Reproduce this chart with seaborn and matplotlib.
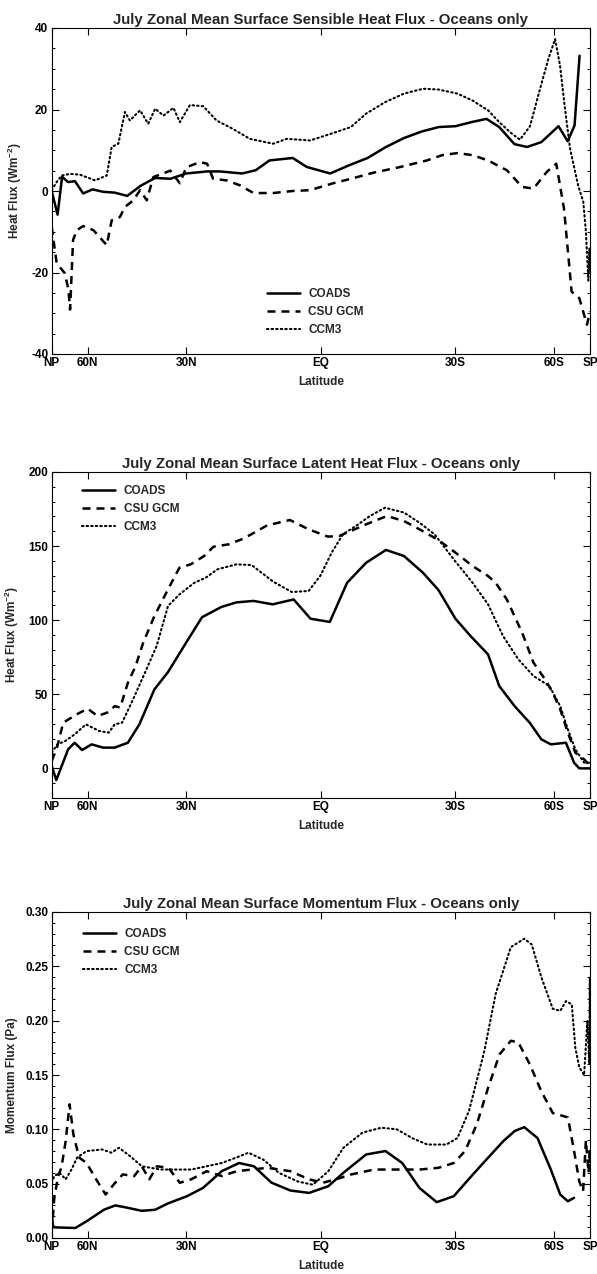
import numpy as np
import matplotlib
matplotlib.use("Agg")
import matplotlib.pyplot as plt
import seaborn as sns
from matplotlib.ticker import MultipleLocator, NullLocator, FormatStrFormatter

SERIES = ['COADS', 'CSU GCM', 'CCM3']
LAT_TICKS = [90, 60, 30, 0, -30, -60, -90]
LAT_LABELS = ['NP', '60N', '30N', 'EQ', '30S', '60S', 'SP']

# --- sensible heat flux (W m-2) ---
SENS_COADS_LAT = [90, 78, 74, 70, 66, 62, 58, 54, 50, 46, 42, 38, 34, 30, 25, 22, 17, 14, 11, 6, 3,
                  -2, -6, -10, -14, -18, -22, -26, -30, -34, -38, -41.5, -46, -50, -55, -62, -66.5, -70.5, -74]
SENS_COADS = [0, -5.8, 3.5, 2.2, 2.4, -0.6, 0.4, -0.2, -0.4, -1.2, 1.3, 3.2, 3.0, 4.3, 4.8, 4.8, 4.3, 5.1, 7.5, 8.1, 5.9,
              4.3, 6.3, 8.1, 10.8, 13.0, 14.6, 15.7, 15.9, 16.9, 17.7, 15.7, 11.5, 10.8, 12.0, 15.9, 12.2, 16.1, 33.2]
SENS_CSU_LAT = [90, 79, 72, 69.7, 68.7, 67, 65, 62, 57.7, 52.7, 51, 48.3, 46.7, 44.2, 42.2, 40.3, 38.5, 34, 31.6, 30,
                26.7, 25, 23.6, 20.5, 17.5, 14.5, 10.2, 6, 2.3, -2.3, -6.4, -11.3, -17.2, -23.2, -26.8, -30.5, -34.3,
                -38.4, -43.7, -48.4, -52.2, -57.1, -61, -64.6, -68.7, -73.8, -81.4, -90]
SENS_CSU = [-8.8, -17.7, -20.2, -24.2, -29.1, -12, -9.6, -8.6, -9.6, -13.3, -7.2, -6.4, -3.9, -2.3, 0.2, -2.3, 3.4, 5.0,
            1.9, 5.8, 7.1, 6.7, 3.0, 2.6, 1.4, -0.5, -0.5, 0, 0.2, 1.8, 3.0, 4.5, 5.9, 7.5, 8.8, 9.3, 8.8, 7.5, 5.1, 1.0,
            0.6, 4.7, 6.7, -4.3, -24.7, -26.3, -32.8, -29.6]
SENS_CCM3_LAT = [90, 79, 74.3, 68.7, 63.5, 57, 52.7, 51, 48.8, 46.7, 45.2, 42.2, 39.9, 38, 35.8, 33.2, 31.6, 29.1, 25.9,
                 22.8, 19, 15.3, 10.2, 7.3, 2.3, -2.3, -6.4, -9.7, -13.8, -18, -22.3, -25.9, -30.5, -34.3, -38.4, -41.5,
                 -45, -47.7, -51, -54.5, -57.7, -60.5, -62.7, -65.1, -67.8, -72.9, -77.2, -80, -83.6, -86.5, -90]
SENS_CCM3 = [0.2, 2.2, 3.8, 4.2, 4.0, 2.6, 3.8, 10.8, 11.6, 19.4, 17.3, 19.8, 16.5, 20.2, 18.5, 20.4, 16.9, 21.1, 20.8,
             17.3, 15.2, 12.8, 11.6, 12.8, 12.4, 14.1, 15.7, 19.0, 21.8, 23.9, 25.1, 24.9, 23.9, 22.2, 19.8, 16.9,
             14.2, 12.6, 15.9, 25.0, 32.4, 37.3, 30.8, 20.2, 10.4, 1.4, -2.7, -10, -22, -14, -20]

# --- latent heat flux (W m-2) ---
LAT_COADS_LAT = [90, 79.4, 69.9, 66.2, 62.5, 58.4, 54, 50, 45.8, 42.4, 38.2, 34.6, 29.8, 26.2, 21.7, 18.3, 14.5, 10.3,
                 5.8, 2.2, -1.9, -5.6, -9.7, -14, -18, -22.3, -25.9, -30, -33.8, -38.4, -41.5, -46, -50.9, -55, -58.7,
                 -65.6, -70.2, -73.8, -90]
LAT_COADS = [1.6, -7.9, 12.8, 17.3, 12.4, 16.2, 14, 14, 17.3, 29.7, 53.3, 65, 85.9, 102, 108.9, 112, 113, 110.7, 114,
             101, 98.8, 125.3, 138.8, 147.4, 143.3, 132, 120.4, 101, 89.3, 76.9, 55.6, 42.1, 30.8, 19.6, 16.2, 17.3,
             3.8, 0, 0]
LAT_CSU_LAT = [90, 78.2, 73.2, 65.2, 60, 56.1, 52, 50, 48.2, 45.8, 43.5, 41.3, 38.2, 34.6, 31.7, 28.9, 25.7, 23.5, 20,
               16.6, 11.5, 6.6, 2.6, -1.5, -3.9, -6.4, -9.7, -14.2, -18, -21.5, -25.9, -30, -34.3, -38.4, -40.5,
               -43.7, -48.4, -52.2, -56.4, -59.5, -62.8, -66.6, -71, -78, -90]
LAT_CSU = [5, 15, 30.8, 36.4, 40.3, 35.3, 38, 42, 41, 57.8, 69, 84.8, 102.8, 120.8, 135.4, 137.7, 143.3, 149.6, 151.2,
           155.2, 164, 167.6, 161.3, 156.4, 156.8, 160.2, 164.7, 170.3, 166.9, 161.3, 154.1, 145.6, 136.6, 129.8,
           125.3, 114, 91.6, 71.3, 60.1, 51.1, 39.8, 24.1, 10.6, 6.1, 1.6]
LAT_CCM3_LAT = [90, 78.2, 71.9, 66.2, 60.8, 55.4, 52, 50, 47.6, 44.7, 40.8, 37.6, 34.6, 31.7, 28, 25.3, 22.6, 18.3,
                14.9, 10.2, 6.2, 2.6, 0.1, -2.3, -4.7, -8, -10.5, -13.8, -18, -21.5, -25, -29.6, -34.3, -38.4, -42.6,
                -47.2, -52.2, -58.1, -62.8, -66.6, -71, -78, -90]
LAT_CCM3 = [10.6, 16.2, 18.4, 22.9, 29.7, 25.2, 24.1, 29.7, 30.8, 44.3, 64.6, 82.6, 109.6, 117.4, 125.3, 128.7, 134.3,
            137.7, 137.2, 126, 119, 119.7, 130, 145.6, 157.9, 164.7, 170.3, 175.9, 172.6, 165.8, 157.9, 141, 125.3,
            110.7, 89.3, 73.6, 62.3, 55.6, 42, 26.3, 12.8, 3.8, 3.8]

# --- momentum flux (Pa) ---
MOM_COADS_LAT = [90, 88, 85, 82, 65.8, 60.5, 53.7, 49.8, 46.2, 41.7, 38, 34.5, 29.8, 26, 21.6, 17.7, 14.4, 10.6, 6.5,
                 2.5, -1.6, -4.8, -9.7, -13.9, -17.6, -21.5, -25.5, -29.6, -34.4, -38.4, -42.7, -46.1, -49.1, -53.6,
                 -58.7, -62.8, -66.6, -70.2]
MOM_COADS = [0.005, 0.025, 0.012, 0.0098, 0.0092, 0.0154, 0.026, 0.030, 0.028, 0.025, 0.026, 0.032, 0.0385, 0.046,
             0.0615, 0.069, 0.066, 0.051, 0.0437, 0.0415, 0.0477, 0.06, 0.0769, 0.08, 0.069, 0.046, 0.033, 0.0385,
             0.0585, 0.0738, 0.0892, 0.0985, 0.102, 0.092, 0.063, 0.04, 0.0338, 0.037]
MOM_CSU_LAT = [90, 82, 77.4, 74.5, 71.5, 69, 66.8, 63.9, 60.5, 56.6, 53.1, 50.4, 47.4, 43.9, 41.7, 39.6, 37.5, 34.5,
               31.6, 28.8, 25.1, 21.6, 18.2, 14.8, 11.5, 6.5, 2.5, -0.4, -3.2, -6.5, -11.4, -17.2, -21.5, -25.9,
               -29.6, -32.4, -35.4, -38.4, -41.6, -44.9, -47.2, -50.9, -55, -59.5, -66.6, -70.2, -73.8, -77, -80,
               -84, -87, -90]
MOM_CSU = [0.006, 0.037, 0.057, 0.065, 0.089, 0.123, 0.095, 0.074, 0.069, 0.054, 0.04, 0.049, 0.0585, 0.057, 0.066,
           0.054, 0.066, 0.0646, 0.0508, 0.054, 0.0615, 0.057, 0.0615, 0.063, 0.0646, 0.0615, 0.054, 0.0508, 0.054,
           0.0585, 0.063, 0.063, 0.063, 0.0646, 0.069, 0.08, 0.1046, 0.138, 0.169, 0.1815, 0.18, 0.16, 0.135, 0.115,
           0.111, 0.08, 0.052, 0.043, 0.09, 0.06, 0.08, 0.07]
MOM_CCM3_LAT = [90, 82, 76, 71.5, 67.9, 64.9, 60.5, 54.4, 51.1, 48.6, 45, 41.7, 36.5, 28.8, 25.1, 21.6, 17.7, 15.6,
                12.3, 9, 4.9, 1.7, -1.6, -4.8, -8.9, -13, -16.4, -19.8, -23.3, -27.8, -30.5, -33.4, -37.4, -40.5,
                -44.9, -49.1, -51.6, -55, -59.5, -62.8, -65.6, -68.8, -71, -73.8, -78, -82, -86, -88, -90]
MOM_CCM3 = [0.0508, 0.057, 0.06, 0.054, 0.063, 0.074, 0.08, 0.0815, 0.0785, 0.083, 0.075, 0.066, 0.063, 0.063, 0.066,
            0.069, 0.075, 0.0785, 0.072, 0.06, 0.052, 0.049, 0.0615, 0.083, 0.097, 0.1015, 0.1, 0.092, 0.086, 0.086,
            0.092, 0.117, 0.172, 0.2246, 0.2677, 0.2754, 0.27, 0.24, 0.211, 0.209, 0.218, 0.215, 0.175, 0.157, 0.15,
            0.20, 0.16, 0.24, 0.18]

TITLES = ['July Zonal Mean Surface Sensible Heat Flux - Oceans only',
          'July Zonal Mean Surface Latent Heat Flux - Oceans only',
          'July Zonal Mean Surface Momentum Flux - Oceans only']
YLABELS = ['Heat Flux (Wm$^{-2}$)', 'Heat Flux (Wm$^{-2}$)', 'Momentum Flux (Pa)']

sns.set_theme(style='ticks')
plt.rcParams['font.family'] = ['Liberation Sans', 'DejaVu Sans']
plt.rcParams['font.weight'] = 'bold'
plt.rcParams['axes.unicode_minus'] = False
plt.rcParams['mathtext.fontset'] = 'custom'
plt.rcParams['mathtext.rm'] = 'Liberation Sans:bold'
plt.rcParams['mathtext.bf'] = 'Liberation Sans:bold'
plt.rcParams['mathtext.default'] = 'bf'

line_kw = {
    'COADS': dict(linestyle='-', linewidth=1.8),
    'CSU GCM': dict(linestyle=(0, (3.2, 2.4)), linewidth=1.8),
    'CCM3': dict(linestyle=(0, (0.7, 1.5)), linewidth=1.5, dash_capstyle='round'),
}


def to_sine(lat):
    return np.sin(np.radians(lat))


def from_sine(s):
    return np.degrees(np.arcsin(np.clip(s, -1, 1)))


panels = [
    dict(data=[(SENS_COADS_LAT, SENS_COADS), (SENS_CSU_LAT, SENS_CSU), (SENS_CCM3_LAT, SENS_CCM3)],
         ylim=(-40, 40), major=20, minor=5, fmt='%d', top=28,
         leg=dict(loc='lower left', bbox_to_anchor=(0.40, 0.056))),
    dict(data=[(LAT_COADS_LAT, LAT_COADS), (LAT_CSU_LAT, LAT_CSU), (LAT_CCM3_LAT, LAT_CCM3)],
         ylim=(-20, 200), major=50, minor=10, fmt='%d', top=472,
         leg=dict(loc='upper left', bbox_to_anchor=(0.057, 0.96))),
    dict(data=[(MOM_COADS_LAT, MOM_COADS), (MOM_CSU_LAT, MOM_CSU), (MOM_CCM3_LAT, MOM_CCM3)],
         ylim=(0, 0.30), major=0.05, minor=0.01, fmt='%.2f', top=912,
         leg=dict(loc='upper left', bbox_to_anchor=(0.058, 0.95))),
]

W, H = 597, 1274
fig = plt.figure(figsize=(W / 100, H / 100), dpi=100)

for i, p in enumerate(panels):
    ax_h = 326
    ax = fig.add_axes([51.7 / W, 1 - (p['top'] + ax_h) / H, 538.3 / W, ax_h / H])
    for name, (lats, vals) in zip(SERIES, p['data']):
        sns.lineplot(x=lats, y=vals, ax=ax, color='black', label=name, sort=False,
                     estimator=None, **line_kw[name])

    ax.set_xscale('function', functions=(to_sine, from_sine))
    ax.set_xlim(90, -90)
    ax.set_xticks(LAT_TICKS, LAT_LABELS)
    ax.xaxis.set_minor_locator(NullLocator())

    ax.set_ylim(*p['ylim'])
    ax.yaxis.set_major_locator(MultipleLocator(p['major']))
    ax.yaxis.set_minor_locator(MultipleLocator(p['minor']))
    ax.yaxis.set_major_formatter(FormatStrFormatter(p['fmt']))

    ax.tick_params(which='both', direction='in', top=True, right=True, labelsize=8.5, pad=2.5,
                   color='black', labelcolor='black')
    ax.tick_params(which='major', length=5, width=0.8)
    ax.tick_params(which='minor', length=2.5, width=0.7)
    for sp in ax.spines.values():
        sp.set_linewidth(0.8)
        sp.set_color('black')

    ax.set_title(TITLES[i], fontsize=10.8, fontweight='bold', pad=3)
    ax.set_xlabel('Latitude', fontsize=8.5, fontweight='bold', labelpad=5)
    ax.set_ylabel(YLABELS[i], fontsize=8.5, fontweight='bold', labelpad=5)

    ax.legend(frameon=False, prop={'weight': 'bold', 'size': 8.5}, handlelength=2.8,
              handletextpad=0.7, labelspacing=0.5, borderpad=0, borderaxespad=0, **p['leg'])

fig.savefig('out.png', dpi=100, facecolor='white')
